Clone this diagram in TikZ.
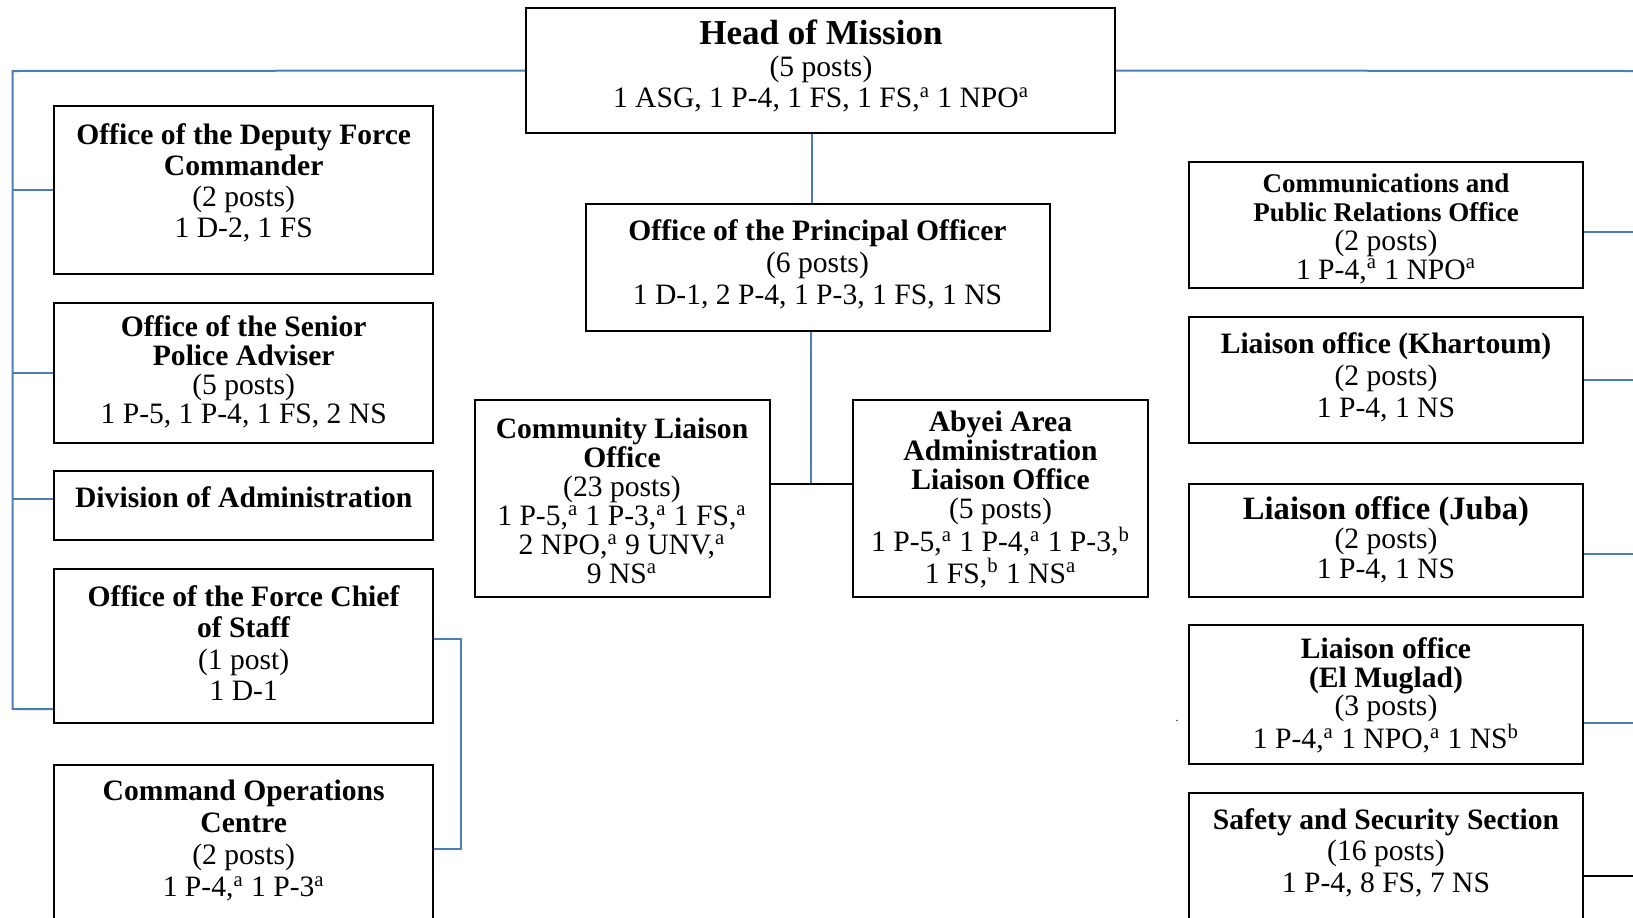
\documentclass[tikz,border=0pt]{standalone}
\usepackage{fontspec}
\setmainfont{Liberation Serif}
\newcommand{\myfont}[1]{\fontsize{14.8pt}{#1pt}\selectfont}
\newcommand{\sa}{\textsuperscript{a}}
\newcommand{\sbb}{\textsuperscript{b}}
\definecolor{lineblue}{RGB}{74,126,187}
\tikzset{
 box/.style={draw=black, line width=1pt, inner sep=0pt, rectangle},
 lbox/.style={box, minimum width=189.5pt},
 rbox/.style={box, minimum width=197pt},
 txt/.style={inner sep=0pt, align=center, text=black},
 bl/.style={draw=lineblue, line width=1pt},
 bk/.style={draw=black, line width=1pt},
}
\begin{document}
\begin{tikzpicture}[x=0.5pt,y=-0.5pt]
\useasboundingbox (0,0) rectangle (1633,917);
\clip (0,0) rectangle (1633,917);
\fill[white] (0,0) rectangle (1633,917);

% boxes
\node[box, minimum width=294.5pt, minimum height=62.5pt] (head) at (820.5,70.5) {};
\node[lbox, minimum height=84pt] (dep) at (243.5,190) {};
\node[lbox, minimum height=70pt] (spa) at (243.5,373) {};
\node[lbox, minimum height=34.5pt] (doa) at (243.5,505.5) {};
\node[lbox, minimum height=77pt] (fcs) at (243.5,646) {};
\node[lbox, minimum height=85pt] (cmd) at (243.5,850) {};
\node[box, minimum width=232pt, minimum height=63.5pt] (pri) at (818,267.5) {};
\node[box, minimum width=147.5pt, minimum height=98.5pt] (cl) at (622.5,498.5) {};
\node[box, minimum width=147.5pt, minimum height=98.5pt] (aby) at (1000.5,498.5) {};
\node[rbox, minimum height=63pt] (cpr) at (1386,225) {};
\node[rbox, minimum height=63pt] (kha) at (1386,380) {};
\node[rbox, minimum height=56.5pt] (juba) at (1386,540.5) {};
\node[rbox, minimum height=69.5pt] (elm) at (1386,694.5) {};
\node[rbox, minimum height=71pt] (saf) at (1386,864) {};

% texts
\node[txt, font=\myfont{15.75}] (headT) at (821,66) {{\fontsize{17.5pt}{15.5pt}\selectfont\bfseries Head of Mission}\\(5 posts)\\1 ASG, 1 P-4, 1 FS, 1 FS,\sa{} 1 NPO\sa};
\node[txt, font=\myfont{15.5}] (depT) at (243.7,183) {\textbf{Office of the Deputy Force}\\\textbf{Commander}\\(2 posts)\\1 D-2, 1 FS};
\node[txt, font=\myfont{14.5}] (spaT) at (243.7,371.5) {\textbf{Office of the Senior}\\\textbf{Police Adviser}\\(5 posts)\\1 P-5, 1 P-4, 1 FS, 2 NS};
\node[txt, font=\myfont{15}] (doaT) at (243.7,497) {\textbf{Division of Administration}};
\node[txt, font=\myfont{15.75}] (fcsT) at (243.7,643) {\textbf{Office of the Force Chief}\\\textbf{of Staff}\\(1 post)\\1 D-1};
\node[txt, font=\myfont{16}] (cmdT) at (243.7,840.5) {\textbf{Command Operations}\\\textbf{Centre}\\(2 posts)\\1 P-4,\sa{} 1 P-3\sa};
\node[txt, font=\myfont{16}] (priT) at (817.5,264) {\textbf{Office of the Principal Officer}\\(6 posts)\\1 D-1, 2 P-4, 1 P-3, 1 FS, 1 NS};
\node[txt, font=\myfont{14.5}] (clT) at (622,501) {\textbf{Community Liaison}\\\textbf{Office}\\(23 posts)\\1 P-5,\sa{} 1 P-3,\sa{} 1 FS,\sa\\2 NPO,\sa{} 9 UNV,\sa\\9 NS\sa};
\node[txt, font=\myfont{14.5}] (abyT) at (1000.5,499.5) {\textbf{Abyei Area}\\\textbf{Administration}\\\textbf{Liaison Office}\\(5 posts)\\1 P-5,\sa{} 1 P-4,\sa{} 1 P-3,\sbb\\1 FS,\sbb{} 1 NS\sa};
\node[txt, font=\myfont{14.5}] (cprT) at (1386,228.5) {{\fontsize{13.5pt}{14.5pt}\selectfont\bfseries Communications and}\\{\fontsize{13.5pt}{14.5pt}\selectfont\bfseries Public Relations Office}\\(2 posts)\\1 P-4,\sa{} 1 NPO\sa};
\node[txt, font=\myfont{16}] (khaT) at (1386,377) {\textbf{Liaison office (Khartoum)}\\(2 posts)\\1 P-4, 1 NS};
\node[txt, font=\myfont{14.75}] (jubaT) at (1386,539.5) {{\fontsize{16.3pt}{15pt}\selectfont\bfseries Liaison office (Juba)}\\(2 posts)\\1 P-4, 1 NS};
\node[txt, font=\myfont{14.25}] (elmT) at (1386,695.5) {\textbf{Liaison office}\\\textbf{(El Muglad)}\\(3 posts)\\1 P-4,\sa{} 1 NPO,\sa{} 1 NS\sbb};
\node[txt, font=\myfont{15.75}] (safT) at (1386,852.5) {\textbf{Safety and Security Section}\\(16 posts)\\1 P-4, 8 FS, 7 NS};
\node[inner sep=0pt, font=\fontsize{6pt}{6pt}\selectfont] (dot) at (1177,721) {.};

% helper coordinates
\coordinate (lt) at (12.5,71);
\coordinate (lb) at (12.5,709);
\coordinate (lk) at (0,499);
\coordinate (eR) at (1633,71);
\coordinate (e1) at (1633,232);
\coordinate (e2) at (1633,380);
\coordinate (e3) at (1633,554);
\coordinate (e4) at (1633,723);
\coordinate (e5) at (1633,876);
\coordinate (hp) at (812,0);
\coordinate (jn) at (811,484);
\coordinate (br1) at (461,639);
\coordinate (br2) at (461,849);

% left connectors
\draw[bl] (head.west) -- (lt) -- (lb) -- (lb -| fcs.west);
\draw[bl] (dep.west) -- (dep.west -| lt);
\draw[bl] (spa.west) -- (spa.west -| lt);
\draw[bl] (doa.west |- lk) -- (lt |- lk);
\draw[bl] (br1 -| fcs.east) -- (br1) -- (br2) -- (br2 -| cmd.east);

% centre connectors
\draw[bl] (head.south -| hp) -- (pri.north -| hp);
\draw[bl] (pri.south -| jn) -- (jn);
\draw[bk] (cl.east |- jn) -- (aby.west |- jn);

% right connectors
\draw[bl] (head.east) -- (eR);
\draw[bl] (e1 -| cpr.east) -- (e1);
\draw[bl] (e2 -| kha.east) -- (e2);
\draw[bl] (e3 -| juba.east) -- (e3);
\draw[bl] (e4 -| elm.east) -- (e4);
\draw[bk] (e5 -| saf.east) -- (e5);
\end{tikzpicture}
\end{document}
